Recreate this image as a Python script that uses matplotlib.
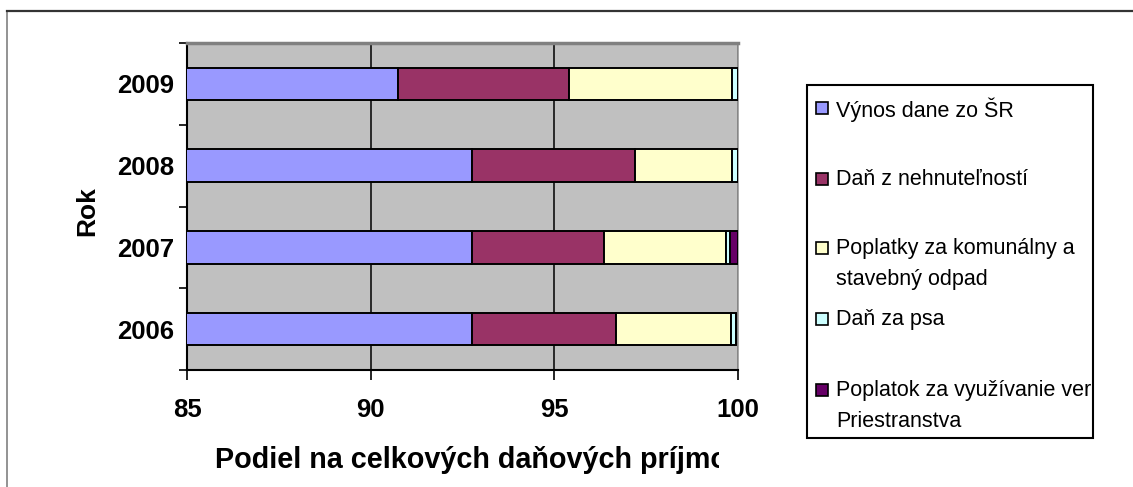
import numpy as np
import matplotlib
matplotlib.use('Agg')
import matplotlib.pyplot as plt
from matplotlib.patches import Rectangle
from matplotlib.lines import Line2D

plt.rcParams['font.family'] = ['Liberation Sans', 'DejaVu Sans']

# data (share of total tax income, %)
years = ['2006', '2007', '2008', '2009']
vynos_dane = [92.76, 92.76, 92.76, 90.75]
dan_nehnut = [3.93, 3.58, 4.44, 4.66]
poplatky_odpad = [3.11, 3.34, 2.64, 4.43]
dan_psa = [0.15, 0.11, 0.16, 0.16]
poplatok_priestr = [0.0, 0.21, 0.0, 0.0]

series_names = ['Výnos dane zo ŠR', 'Daň z nehnuteľností',
                'Poplatky za komunálny a\nstavebný odpad', 'Daň za psa',
                'Poplatok za využívanie verejného\nPriestranstva']
colors = ['#9999FF', '#993366', '#FFFFCC', '#CCFFFF', '#660066']

W, H = 1133, 487
fig = plt.figure(figsize=(W / 100, H / 100), dpi=100)

# outer frame
fig.add_artist(Line2D([7 / W, 7 / W], [0, 1 - 11 / H], color='#808080', lw=1.2))
fig.add_artist(Line2D([7 / W, 1], [1 - 11 / H, 1 - 11 / H], color='#333333', lw=1.6))

ax = fig.add_axes([187 / W, (H - 370) / H, (738 - 187) / W, (370 - 43) / H])
ax.set_facecolor('#C0C0C0')

y = np.arange(len(years))
left = np.zeros(len(years))
for vals, c in zip([vynos_dane, dan_nehnut, poplatky_odpad, dan_psa, poplatok_priestr], colors):
    vals = np.array(vals)
    ax.barh(y, vals, left=left, height=0.4, color=c, edgecolor='black', linewidth=1.4, zorder=3)
    left = left + vals

ax.set_xlim(85, 100)
ax.set_ylim(-0.5, 3.5)
ax.set_xticks([85, 90, 95, 100])
ax.set_xticklabels(['85', '90', '95', '100'], fontsize=18.5, fontweight='bold')
ax.tick_params(axis='x', direction='out', length=7, width=1.2, pad=13)
ax.set_yticks(y)
ax.set_yticklabels(years, fontsize=18.5, fontweight='bold')
ax.tick_params(axis='y', length=0, pad=9)
ax.set_yticks(np.arange(-0.5, 4, 1), minor=True)
ax.tick_params(axis='y', which='minor', direction='out', length=6, width=1.2)
ax.grid(axis='x', color='black', lw=1.1, zorder=1)

ax.spines['left'].set_linewidth(1.5)
ax.spines['bottom'].set_linewidth(1.5)
ax.spines['top'].set_color('#808080')
ax.spines['top'].set_linewidth(2.5)
ax.spines['right'].set_color('#999999')
ax.spines['right'].set_linewidth(1.2)

fig.text(87 / W, 1 - 211 / H, 'Rok', rotation=90, fontsize=19, fontweight='bold',
         ha='center', va='center')

clip_x = Rectangle((0, 0), 719 / W, 1, transform=fig.transFigure, visible=False)
fig.add_artist(clip_x)
t = fig.text(215 / W, 1 - 460 / H, 'Podiel na celkových daňových príjmoch obce',
             fontsize=20.7, fontweight='bold', ha='left', va='center')
t.set_clip_path(clip_x)

# legend box
lx0, lx1, ly0, ly1 = 807, 1093, 85, 438
box = Rectangle((lx0 / W, 1 - ly1 / H), (lx1 - lx0) / W, (ly1 - ly0) / H,
                transform=fig.transFigure, facecolor='white', edgecolor='black', lw=1.5)
fig.add_artist(box)
clip_leg = Rectangle((lx0 / W, 1 - ly1 / H), (lx1 - lx0) / W, (ly1 - ly0) / H,
                     transform=fig.transFigure, visible=False)
fig.add_artist(clip_leg)
entry_y = [108, 179, 248, 319, 390]
for name, c, ey in zip(series_names, colors, entry_y):
    sq = Rectangle((816 / W, 1 - (ey + 6) / H), 12 / W, 12 / H, transform=fig.transFigure,
                   facecolor=c, edgecolor='black', lw=1.2)
    fig.add_artist(sq)
    tx = fig.text(836 / W, 1 - (ey - 10) / H, name, fontsize=15.5, ha='left', va='top',
                  linespacing=1.6)
    tx.set_clip_path(clip_leg)

fig.savefig('out.png', dpi=100)
